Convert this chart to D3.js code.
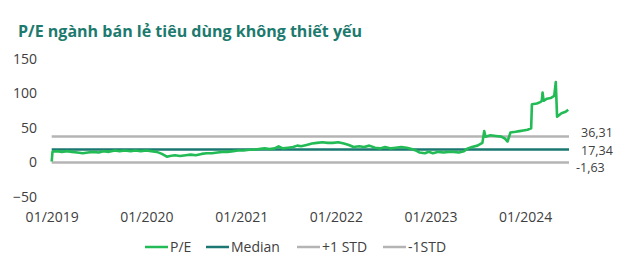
<!DOCTYPE html>
<html>
<head>
<meta charset="utf-8">
<script src="https://cdn.jsdelivr.net/npm/d3@7"></script>
<style>
  body { margin: 0; background: #fff; }
  svg { display: block; font-family: "Open Sans", "Noto Sans", sans-serif; }
  .tick-label { font-size: 14px; fill: #404040; font-family: "Open Sans", "Noto Sans", sans-serif; }
  .ref-label { font-size: 12.5px; fill: #404040; font-family: "Open Sans", "Noto Sans", sans-serif; }
</style>
</head>
<body>
<svg id="chart" width="625" height="259"></svg>
<script>
// P/E series (date, value)
const peDates = [
  '2019-01-01','2019-01-04','2019-01-20','2019-02-10','2019-03-01','2019-03-20','2019-04-10','2019-05-01',
  '2019-05-20','2019-06-10','2019-07-01','2019-07-20','2019-08-10','2019-09-01','2019-09-20','2019-10-10',
  '2019-11-01','2019-11-20','2019-12-10','2020-01-01','2020-01-20','2020-02-10','2020-03-01','2020-03-20',
  '2020-04-01','2020-04-20','2020-05-10','2020-06-01','2020-06-20','2020-07-10','2020-08-01','2020-08-20',
  '2020-09-10','2020-10-01','2020-10-20','2020-11-10','2020-12-01','2020-12-20','2021-01-10','2021-02-01',
  '2021-02-20','2021-03-10','2021-04-01','2021-04-20','2021-05-10','2021-05-25','2021-06-10','2021-07-01',
  '2021-07-20','2021-08-05','2021-08-20','2021-09-10','2021-10-01','2021-10-20','2021-11-10','2021-12-01',
  '2021-12-20','2022-01-10','2022-02-01','2022-02-20','2022-03-10','2022-04-01','2022-04-20','2022-05-10',
  '2022-06-01','2022-06-20','2022-07-10','2022-08-01','2022-08-20','2022-09-10','2022-10-01','2022-10-20',
  '2022-11-05','2022-11-20','2022-12-10','2022-12-25','2023-01-10','2023-02-01','2023-02-20','2023-03-10',
  '2023-04-01','2023-04-20','2023-05-10','2023-05-25','2023-06-10','2023-07-01','2023-07-20','2023-07-27',
  '2023-08-01','2023-08-20','2023-09-10','2023-10-01','2023-10-15','2023-10-25','2023-11-05','2023-11-25',
  '2023-12-10','2023-12-25','2024-01-10','2024-01-24','2024-01-27','2024-02-15','2024-02-28','2024-03-05',
  '2024-03-08','2024-03-12','2024-03-25','2024-04-08','2024-04-22','2024-04-28','2024-05-03','2024-05-20',
  '2024-06-05','2024-06-15'
];
const peValues = [
  0, 14, 15, 14, 15, 14, 13, 12,
  13, 14, 13, 15, 14, 16, 15, 16,
  15, 16, 15, 16, 15, 14, 11, 7,
  8, 9, 8, 9, 10, 9, 11, 12,
  12, 13, 14, 14, 15, 16, 16, 17,
  17, 18, 19, 18, 19, 22, 19, 20,
  21, 23, 22, 24, 26, 27, 28, 27,
  27, 28, 26, 24, 21, 22, 21, 23,
  20, 19, 21, 19, 20, 21, 20, 18,
  16, 13, 12, 14, 12, 14, 13, 14,
  14, 13, 15, 19, 21, 23, 27, 44,
  36, 38, 37, 36, 33, 29, 42, 43,
  44, 45, 46, 48, 83, 84, 86, 88,
  100, 88, 91, 92, 95, 115, 65, 70,
  72, 75
];

// reference lines
const refNames = ['Median', '+1 STD', '-1STD'];
const refValues = [17.34, 36.31, -1.63];
const refLabels = ['17,34', '36,31', '-1,63'];

const yTicks = [-50, 0, 50, 100, 150];
const xTickYears = [2019, 2020, 2021, 2022, 2023, 2024];

const legendNames = ['P/E', 'Median', '+1 STD', '-1STD'];

const GREEN = '#22bb55', TEAL = '#1a7771', GRAY = '#b4b4b4';
const colors = { 'P/E': GREEN, 'Median': TEAL, '+1 STD': GRAY, '-1STD': GRAY };

const svg = d3.select('#chart');
const parse = d3.timeParse('%Y-%m-%d');
const pe = peDates.map((d, i) => ({ date: parse(d), value: peValues[i] }));

const x = d3.scaleTime()
  .domain([parse('2019-01-01'), parse('2024-06-18')])
  .range([51.7, 569]);
const y = d3.scaleLinear().domain([-50, 150]).range([196, 58]);

// title
svg.append('text')
  .attr('x', 18).attr('y', 37)
  .attr('font-size', 16).attr('font-weight', 700)
  .attr('fill', '#1d7a6e')
  .attr('textLength', 344).attr('lengthAdjust', 'spacingAndGlyphs')
  .text('P/E ngành bán lẻ tiêu dùng không thiết yếu');

// y axis labels (no axis line)
const yAxis = svg.append('g').attr('transform', 'translate(37,0)')
  .call(d3.axisLeft(y).tickValues(yTicks).tickSize(0).tickPadding(0));
yAxis.attr('font-family', null).attr('font-size', null);
yAxis.select('.domain').remove();
yAxis.selectAll('text').attr('class', 'tick-label').attr('dy', '0.36em');

// x axis labels
const xAxis = svg.append('g').attr('transform', 'translate(0,209)')
  .call(d3.axisBottom(x)
    .tickValues(xTickYears.map(yr => new Date(yr, 0, 1)))
    .tickFormat(d3.timeFormat('%m/%Y')).tickSize(0).tickPadding(0));
xAxis.attr('font-family', null).attr('font-size', null);
xAxis.select('.domain').remove();
xAxis.selectAll('text').attr('class', 'tick-label').attr('dy', '0.95em');

// reference lines
const xr = x.range();
refValues.forEach((v, i) => {
  svg.append('line')
    .attr('x1', xr[0]).attr('x2', xr[1])
    .attr('y1', y(v)).attr('y2', y(v))
    .attr('stroke', colors[refNames[i]]).attr('stroke-width', 2.5);
});

// right-hand value labels
const labelOffset = [{ dx: 12, dy: 0.5 }, { dx: 12, dy: -4 }, { dx: 7, dy: 5 }];
refValues.forEach((v, i) => {
  svg.append('text')
    .attr('class', 'ref-label')
    .attr('x', xr[1] + labelOffset[i].dx)
    .attr('y', y(v) + labelOffset[i].dy)
    .attr('dy', '0.36em')
    .text(refLabels[i]);
});

// P/E line
svg.append('path')
  .datum(pe)
  .attr('fill', 'none')
  .attr('stroke', GREEN)
  .attr('stroke-width', 2.6)
  .attr('stroke-linejoin', 'round')
  .attr('d', d3.line().x(d => x(d.date)).y(d => y(d.value)));

// legend
const legendX = [145, 206, 297, 383];
const legend = svg.append('g').attr('transform', 'translate(0,247)');
legendNames.forEach((name, i) => {
  legend.append('line')
    .attr('x1', legendX[i]).attr('x2', legendX[i] + 23)
    .attr('y1', 0).attr('y2', 0)
    .attr('stroke', colors[name]).attr('stroke-width', 2.5);
  legend.append('text')
    .attr('class', 'tick-label')
    .attr('x', legendX[i] + 25).attr('y', 0).attr('dy', '0.36em')
    .text(name);
});
</script>
</body>
</html>
